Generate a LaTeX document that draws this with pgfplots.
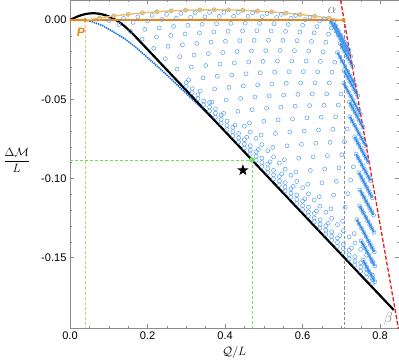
\documentclass[border=0pt]{standalone}
\usepackage{fontspec}
\setmainfont{Liberation Sans}
\usepackage{pgfplots}
\usepackage{pgfplotstable}
\pgfplotsset{compat=1.18}
\definecolor{circblue}{RGB}{88,160,238}
\definecolor{denseblue}{RGB}{25,115,225}
\definecolor{strokeblue}{RGB}{45,135,232}
\definecolor{orangeA}{RGB}{238,132,20}
\definecolor{orangeB}{RGB}{240,192,110}
\definecolor{redL}{RGB}{232,30,30}
\definecolor{greenL}{RGB}{110,225,90}
\definecolor{frameg}{RGB}{140,140,140}
\definecolor{labelg}{RGB}{120,120,120}

% filled five-point star
\pgfdeclareplotmark{fstar}{%
  \pgfpathmoveto{\pgfpointpolar{90}{\pgfplotmarksize}}%
  \pgfpathlineto{\pgfpointpolar{126}{0.4\pgfplotmarksize}}%
  \pgfpathlineto{\pgfpointpolar{162}{\pgfplotmarksize}}%
  \pgfpathlineto{\pgfpointpolar{198}{0.4\pgfplotmarksize}}%
  \pgfpathlineto{\pgfpointpolar{234}{\pgfplotmarksize}}%
  \pgfpathlineto{\pgfpointpolar{270}{0.4\pgfplotmarksize}}%
  \pgfpathlineto{\pgfpointpolar{306}{\pgfplotmarksize}}%
  \pgfpathlineto{\pgfpointpolar{342}{0.4\pgfplotmarksize}}%
  \pgfpathlineto{\pgfpointpolar{18}{\pgfplotmarksize}}%
  \pgfpathlineto{\pgfpointpolar{54}{0.4\pgfplotmarksize}}%
  \pgfpathclose\pgfusepathqfill}

\pgfplotsset{circ/.style={only marks, mark=o, mark size=2pt,
  mark options={circblue, line width=0.5pt}}}

% rows of solutions packed just above the black branch
\pgfplotstableread{
x      a        b        c        d
0.300 -0.0419  -0.0394  nan      nan
0.315 -0.0458  -0.0433  nan      nan
0.330 -0.0497  -0.0472  nan      nan
0.345 -0.0536  -0.0511  nan      nan
0.360 -0.0574  -0.0549  -0.0521  nan
0.375 -0.0613  -0.0588  -0.0560  nan
0.390 -0.0652  -0.0627  -0.0599  nan
0.405 -0.0691  -0.0666  -0.0638  nan
0.420 -0.0730  -0.0705  -0.0677  nan
0.435 -0.0769  -0.0744  -0.0716  nan
0.450 -0.0808  -0.0783  -0.0755  -0.0670
0.465 -0.0846  -0.0821  -0.0793  -0.0708
0.480 -0.0885  -0.0860  -0.0832  -0.0747
0.495 -0.0924  -0.0899  -0.0871  -0.0786
0.510 -0.0963  -0.0938  -0.0910  -0.0825
0.525 -0.1002  -0.0977  -0.0949  -0.0864
0.540 -0.1041  -0.1016  -0.0988  -0.0903
0.555 -0.1079  -0.1054  -0.1026  -0.0941
0.570 -0.1118  -0.1093  -0.1065  -0.0980
0.585 -0.1157  -0.1132  -0.1104  -0.1019
0.600 -0.1196  -0.1171  -0.1143  -0.1058
0.615 -0.1235  -0.1210  -0.1182  -0.1097
0.630 -0.1274  -0.1249  -0.1221  -0.1136
0.645 -0.1313  -0.1288  -0.1260  -0.1175
0.660 -0.1351  -0.1326  -0.1298  -0.1213
0.675 -0.1390  -0.1365  -0.1337  -0.1252
0.690 -0.1429  -0.1404  -0.1376  -0.1291
0.705 -0.1468  -0.1443  -0.1415  -0.1330
0.720 -0.1507  -0.1482  -0.1454  -0.1369
0.735 -0.1546  -0.1521  -0.1493  -0.1408
0.750 -0.1585  -0.1560  -0.1532  -0.1447
0.765 -0.1623  -0.1598  -0.1570  -0.1485
0.780 -0.1662  -0.1637  -0.1609  -0.1524
}\nearline

\begin{document}
\begin{tikzpicture}
\begin{axis}[
  scale only axis, width=327pt, height=326pt,
  xmin=0, xmax=0.848, ymin=-0.1944, ymax=0.0125,
  axis line style={frameg},
  tick align=inside,
  major tick length=4pt, minor tick length=2.2pt,
  every tick/.style={frameg, line width=0.5pt},
  xtick={0,0.2,0.4,0.6,0.8}, ytick={-0.15,-0.1,-0.05,0},
  minor x tick num=3, minor y tick num=4,
  scaled ticks=false,
  xticklabel style={/pgf/number format/.cd, fixed, fixed zerofill, precision=1},
  yticklabel style={/pgf/number format/.cd, fixed, fixed zerofill, precision=2},
  /pgf/number format/assume math mode=true,
  tick label style={font=\fontsize{11}{13}\selectfont},
  xlabel={$\mathcal{Q}/L$},
  ylabel={$\displaystyle\frac{\Delta\mathcal{M}}{L}$},
  ylabel style={rotate=-90, at={(axis description cs:-0.162,0.512)}, anchor=center},
  label style={font=\fontsize{13}{15}\selectfont},
  unbounded coords=discard,
]
% guide lines
\addplot[orangeB, line width=0.6pt, dash pattern=on 3pt off 2pt] coordinates {(0.039,0)(0.039,-0.1944)};
\addplot[frameg, line width=0.6pt, dash pattern=on 3pt off 2pt] coordinates {(0.707,0)(0.707,-0.1944)};

% family of solutions (open circles), one branch per starting point on the upper arc
\addplot[circ] coordinates {(0.076,0.0013)(0.101,-0.0003)(0.126,-0.0028)(0.156,-0.0072)(0.186,-0.0120)(0.216,-0.0179)(0.246,-0.0244)(0.276,-0.0310)(0.306,-0.0378)(0.336,-0.0448)(0.366,-0.0518)(0.396,-0.0589)(0.426,-0.0662)(0.456,-0.0739)(0.486,-0.0817)(0.516,-0.0895)(0.546,-0.0972)(0.576,-0.1050)(0.606,-0.1128)(0.636,-0.1205)(0.666,-0.1283)(0.696,-0.1361)(0.726,-0.1439)(0.756,-0.1516)(0.761,-0.1539)(0.766,-0.1561)(0.771,-0.1584)(0.776,-0.1606)(0.781,-0.1629)(0.786,-0.1651)};
\addplot[circ] coordinates {(0.113,0.0026)(0.138,0.0010)(0.163,-0.0015)(0.193,-0.0059)(0.223,-0.0107)(0.253,-0.0166)(0.283,-0.0231)(0.313,-0.0297)(0.343,-0.0365)(0.373,-0.0435)(0.403,-0.0505)(0.433,-0.0576)(0.463,-0.0649)(0.493,-0.0726)(0.523,-0.0804)(0.553,-0.0882)(0.583,-0.0959)(0.613,-0.1037)(0.643,-0.1115)(0.673,-0.1192)(0.703,-0.1270)(0.733,-0.1348)(0.751,-0.1394)(0.756,-0.1417)(0.761,-0.1439)(0.766,-0.1462)(0.771,-0.1484)(0.776,-0.1507)(0.781,-0.1529)(0.786,-0.1552)};
\addplot[circ] coordinates {(0.150,0.0036)(0.175,0.0020)(0.200,-0.0005)(0.230,-0.0049)(0.260,-0.0097)(0.290,-0.0156)(0.320,-0.0221)(0.350,-0.0287)(0.380,-0.0355)(0.410,-0.0425)(0.440,-0.0495)(0.470,-0.0566)(0.500,-0.0639)(0.530,-0.0716)(0.560,-0.0794)(0.590,-0.0872)(0.620,-0.0949)(0.650,-0.1027)(0.680,-0.1105)(0.710,-0.1182)(0.740,-0.1260)(0.746,-0.1287)(0.752,-0.1314)(0.758,-0.1341)(0.764,-0.1368)(0.770,-0.1395)(0.775,-0.1418)(0.780,-0.1440)(0.785,-0.1463)};
\addplot[circ] coordinates {(0.187,0.0045)(0.212,0.0029)(0.237,0.0004)(0.267,-0.0040)(0.297,-0.0088)(0.327,-0.0147)(0.357,-0.0212)(0.387,-0.0278)(0.417,-0.0346)(0.447,-0.0416)(0.477,-0.0486)(0.507,-0.0557)(0.537,-0.0630)(0.567,-0.0707)(0.597,-0.0785)(0.627,-0.0863)(0.657,-0.0940)(0.687,-0.1018)(0.717,-0.1096)(0.747,-0.1173)(0.752,-0.1196)(0.757,-0.1218)(0.763,-0.1245)(0.768,-0.1268)(0.773,-0.1290)(0.778,-0.1313)(0.784,-0.1340)};
\addplot[circ] coordinates {(0.224,0.0052)(0.249,0.0036)(0.274,0.0011)(0.304,-0.0033)(0.334,-0.0081)(0.364,-0.0140)(0.394,-0.0205)(0.424,-0.0271)(0.454,-0.0339)(0.484,-0.0409)(0.514,-0.0479)(0.544,-0.0550)(0.574,-0.0623)(0.604,-0.0700)(0.634,-0.0778)(0.664,-0.0856)(0.694,-0.0933)(0.724,-0.1011)(0.748,-0.1073)(0.753,-0.1096)(0.758,-0.1118)(0.763,-0.1141)(0.768,-0.1163)(0.773,-0.1186)(0.778,-0.1208)(0.783,-0.1231)};
\addplot[circ] coordinates {(0.261,0.0058)(0.286,0.0042)(0.311,0.0017)(0.341,-0.0027)(0.371,-0.0075)(0.401,-0.0134)(0.431,-0.0199)(0.461,-0.0265)(0.491,-0.0333)(0.521,-0.0403)(0.551,-0.0473)(0.581,-0.0544)(0.611,-0.0617)(0.641,-0.0694)(0.671,-0.0772)(0.701,-0.0850)(0.731,-0.0927)(0.745,-0.0964)(0.750,-0.0987)(0.755,-0.1009)(0.760,-0.1032)(0.765,-0.1054)(0.770,-0.1077)(0.775,-0.1099)(0.780,-0.1122)};
\addplot[circ] coordinates {(0.298,0.0062)(0.323,0.0046)(0.348,0.0021)(0.378,-0.0023)(0.408,-0.0071)(0.438,-0.0130)(0.468,-0.0195)(0.498,-0.0261)(0.528,-0.0329)(0.558,-0.0399)(0.588,-0.0469)(0.618,-0.0540)(0.648,-0.0613)(0.678,-0.0690)(0.708,-0.0768)(0.738,-0.0846)(0.743,-0.0869)(0.748,-0.0891)(0.754,-0.0918)(0.759,-0.0941)(0.764,-0.0963)(0.770,-0.0990)(0.775,-0.1013)};
\addplot[circ] coordinates {(0.335,0.0064)(0.360,0.0048)(0.385,0.0023)(0.415,-0.0021)(0.445,-0.0069)(0.475,-0.0128)(0.505,-0.0193)(0.535,-0.0259)(0.565,-0.0327)(0.595,-0.0397)(0.625,-0.0467)(0.655,-0.0538)(0.685,-0.0611)(0.715,-0.0688)(0.734,-0.0737)(0.739,-0.0760)(0.744,-0.0782)(0.749,-0.0805)(0.754,-0.0827)(0.759,-0.0850)(0.764,-0.0872)(0.769,-0.0895)};
\addplot[circ] coordinates {(0.372,0.0065)(0.397,0.0049)(0.422,0.0024)(0.452,-0.0020)(0.482,-0.0068)(0.512,-0.0127)(0.542,-0.0192)(0.572,-0.0258)(0.602,-0.0326)(0.632,-0.0396)(0.662,-0.0466)(0.692,-0.0537)(0.722,-0.0610)(0.728,-0.0637)(0.734,-0.0664)(0.740,-0.0691)(0.746,-0.0718)(0.752,-0.0745)(0.758,-0.0772)(0.763,-0.0795)};
\addplot[circ] coordinates {(0.409,0.0064)(0.434,0.0048)(0.459,0.0023)(0.489,-0.0021)(0.519,-0.0069)(0.549,-0.0128)(0.579,-0.0193)(0.609,-0.0259)(0.639,-0.0327)(0.669,-0.0397)(0.699,-0.0467)(0.721,-0.0519)(0.726,-0.0542)(0.731,-0.0564)(0.736,-0.0587)(0.741,-0.0609)(0.746,-0.0632)(0.751,-0.0654)(0.756,-0.0677)};
\addplot[circ] coordinates {(0.446,0.0062)(0.471,0.0046)(0.496,0.0021)(0.526,-0.0023)(0.556,-0.0071)(0.586,-0.0130)(0.616,-0.0195)(0.646,-0.0261)(0.676,-0.0329)(0.706,-0.0399)(0.712,-0.0426)(0.718,-0.0453)(0.724,-0.0480)(0.730,-0.0507)(0.736,-0.0534)(0.742,-0.0561)(0.749,-0.0593)};
\addplot[circ] coordinates {(0.483,0.0057)(0.508,0.0041)(0.533,0.0016)(0.563,-0.0028)(0.593,-0.0076)(0.623,-0.0135)(0.653,-0.0200)(0.683,-0.0266)(0.707,-0.0320)(0.712,-0.0343)(0.717,-0.0365)(0.722,-0.0388)(0.727,-0.0410)(0.732,-0.0433)(0.737,-0.0455)(0.742,-0.0478)};
\addplot[circ] coordinates {(0.520,0.0052)(0.545,0.0036)(0.570,0.0011)(0.600,-0.0033)(0.630,-0.0081)(0.660,-0.0140)(0.690,-0.0205)(0.696,-0.0232)(0.702,-0.0259)(0.709,-0.0290)(0.716,-0.0322)(0.723,-0.0353)(0.730,-0.0385)(0.736,-0.0412)};
\addplot[circ] coordinates {(0.557,0.0044)(0.582,0.0028)(0.607,0.0003)(0.637,-0.0041)(0.667,-0.0089)(0.697,-0.0148)(0.702,-0.0171)(0.707,-0.0193)(0.713,-0.0220)(0.718,-0.0243)(0.724,-0.0270)(0.729,-0.0292)};
\addplot[circ] coordinates {(0.594,0.0035)(0.619,0.0019)(0.644,-0.0006)(0.674,-0.0050)(0.689,-0.0072)(0.694,-0.0095)(0.699,-0.0117)(0.704,-0.0140)(0.709,-0.0162)(0.714,-0.0185)(0.719,-0.0207)(0.724,-0.0230)};
\addplot[circ] coordinates {(0.631,0.0024)(0.656,0.0008)(0.681,-0.0017)(0.686,-0.0040)(0.692,-0.0067)(0.698,-0.0094)(0.703,-0.0116)(0.708,-0.0139)(0.714,-0.0166)(0.719,-0.0188)};
\addplot[circ] coordinates {(0.668,0.0012)(0.674,-0.0015)(0.680,-0.0042)(0.686,-0.0069)(0.692,-0.0096)(0.698,-0.0123)(0.704,-0.0150)(0.710,-0.0177)(0.715,-0.0199)};
\addplot[circ] table[x=x, y=a] {\nearline};
\addplot[circ] table[x=x, y=b] {\nearline};
\addplot[circ] table[x=x, y=c] {\nearline};
\addplot[circ] table[x=x, y=d] {\nearline};

% dense accumulation strokes at the right end of each branch
\addplot[strokeblue, line width=1.8pt, unbounded coords=jump] coordinates {
  (0.756,-0.1516)(0.786,-0.1651) (nan,nan)
  (0.751,-0.1394)(0.786,-0.1552) (nan,nan)
  (0.740,-0.1260)(0.785,-0.1463) (nan,nan)
  (0.747,-0.1173)(0.784,-0.1340) (nan,nan)
  (0.748,-0.1073)(0.783,-0.1231) (nan,nan)
  (0.745,-0.0964)(0.780,-0.1122) (nan,nan)
  (0.738,-0.0846)(0.775,-0.1013) (nan,nan)
  (0.734,-0.0737)(0.769,-0.0895) (nan,nan)
  (0.722,-0.0610)(0.763,-0.0795) (nan,nan)
  (0.721,-0.0519)(0.756,-0.0677) (nan,nan)
  (0.706,-0.0399)(0.749,-0.0593) (nan,nan)
  (0.707,-0.0320)(0.742,-0.0478) (nan,nan)
  (0.690,-0.0205)(0.736,-0.0412) (nan,nan)
  (0.697,-0.0148)(0.729,-0.0292) (nan,nan)
  (0.689,-0.0072)(0.724,-0.0230) (nan,nan)
  (0.681,-0.0017)(0.719,-0.0188) (nan,nan)
  (0.668,0.0012)(0.715,-0.0199)};

% lowest branch from P (dense small dots)
\addplot[denseblue, line width=1.6pt, dash pattern=on 1.4pt off 0.8pt] coordinates {
  (0.039,0)(0.059,-0.0012)(0.084,-0.0035)(0.109,-0.0070)(0.139,-0.0115)(0.169,-0.0170)
  (0.199,-0.0235)(0.229,-0.0300)(0.259,-0.0368)(0.289,-0.0438)(0.319,-0.0508)
  (0.349,-0.0578)(0.379,-0.0650)(0.409,-0.0726)(0.469,-0.0882)(0.835,-0.1830)};

% black curve
\addplot[black, line width=2.2pt, smooth] coordinates {
  (0,0)(0.02,0.0023)(0.04,0.0038)(0.06,0.0043)(0.08,0.0038)(0.10,0.0023)
  (0.12,-0.0002)(0.14,-0.0037)(0.164,-0.0092)};
\addplot[black, line width=2.2pt] coordinates {(0.164,-0.0092)(0.835,-0.1830)};

% orange branches
\addplot[orangeA, line width=1.7pt] coordinates {(0,0)(0.705,0)};
\addplot[orangeB, line width=1.4pt, mark=*, mark size=1.5pt, mark options={orangeB}] coordinates {
  (0.039,0)(0.076,0.0013)(0.113,0.0026)(0.150,0.0036)(0.187,0.0045)(0.224,0.0052)
  (0.261,0.0058)(0.298,0.0062)(0.335,0.0064)(0.372,0.0065)(0.409,0.0064)(0.446,0.0062)
  (0.483,0.0057)(0.520,0.0052)(0.557,0.0044)(0.594,0.0035)(0.631,0.0024)(0.668,0.0012)(0.705,0)};
\addplot[only marks, mark=*, mark size=1.8pt, orangeA] coordinates {(0.039,0)(0.705,0)};

% red boundary line through alpha and beta
\addplot[redL, line width=1.3pt, dash pattern=on 4pt off 2pt] coordinates {(0.698,0.0125)(0.848,-0.1960)};

% green cross-hair and star
\addplot[greenL, line width=0.6pt, dash pattern=on 3pt off 2pt] coordinates {(0,-0.0885)(0.469,-0.0885)};
\addplot[greenL, line width=0.6pt, dash pattern=on 3pt off 2pt] coordinates {(0.469,-0.0885)(0.469,-0.1944)};
\addplot[only marks, mark=*, mark size=2.4pt, greenL] coordinates {(0.469,-0.0882)};
\addplot[only marks, mark=fstar, mark size=6pt, black] coordinates {(0.446,-0.0948)};

% labels
\node[orangeA, font=\fontsize{12}{14}\selectfont\bfseries\itshape] at (axis cs:0.028,-0.0075) {P};
\node[labelg, font=\fontsize{14}{16}\selectfont] at (axis cs:0.676,0.0062) {$\alpha$};
\node[labelg, font=\fontsize{15}{17}\selectfont] at (axis cs:0.821,-0.1885) {$\beta$};
\end{axis}
\end{tikzpicture}
\end{document}
